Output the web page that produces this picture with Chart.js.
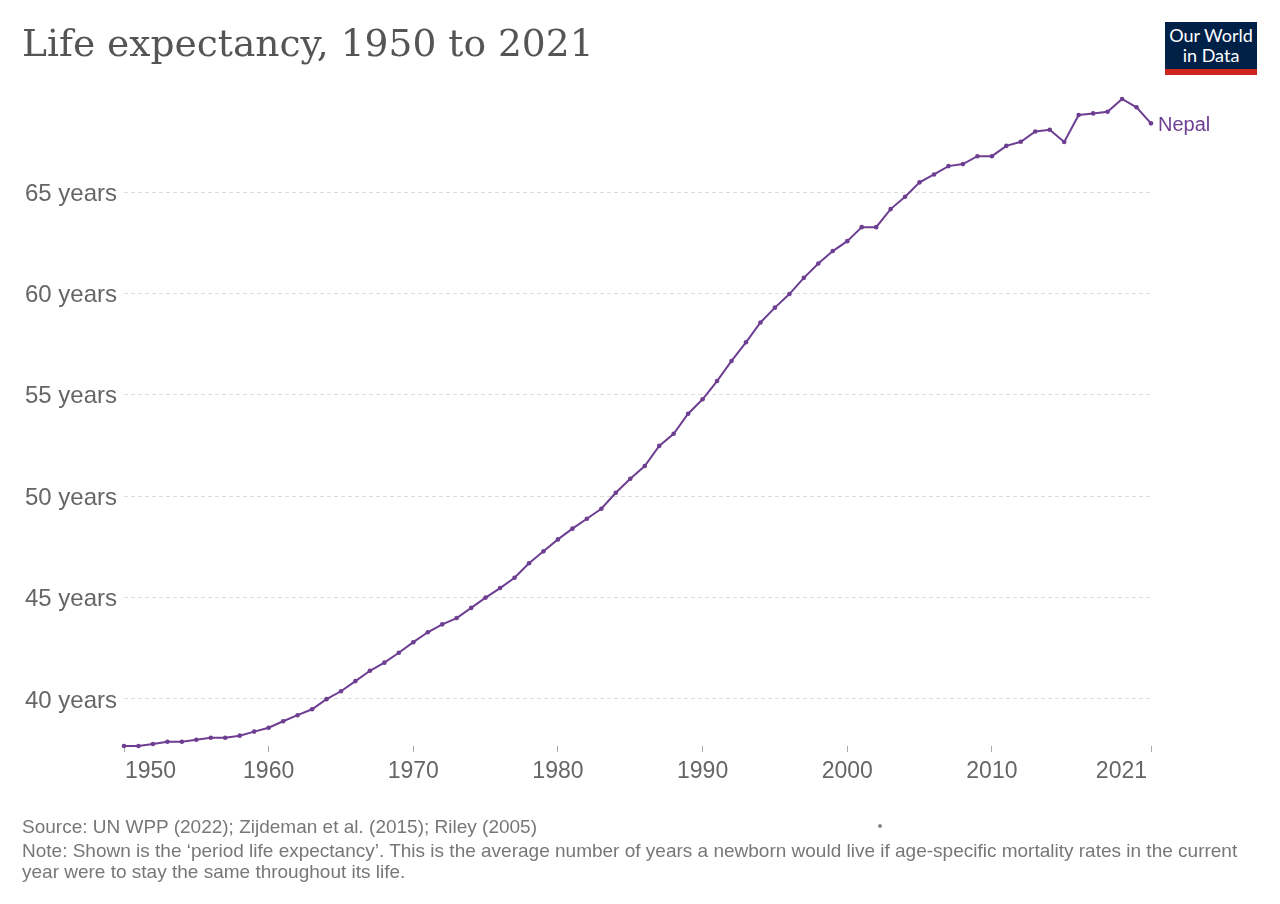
<!DOCTYPE html>
<html>
<head>
<meta charset="utf-8">
<title>Life expectancy, 1950 to 2021</title>
<script src="https://cdn.jsdelivr.net/npm/chart.js@4.4.1/dist/chart.umd.min.js"></script>
<style>
  body { margin: 0; background: #fff; }
  #wrap { position: relative; width: 1280px; height: 904px; overflow: hidden; }
  #chart { position: absolute; left: 0; top: 0; }
  .title { position: absolute; left: 22px; top: 25px; font: 37.6px/1 "DejaVu Serif", serif; color: #555; white-space: nowrap; }
  .logo { position: absolute; left: 1165px; top: 22px; width: 92px; height: 53px; box-sizing: border-box;
          background: #002147; border-bottom: 6px solid #ce261e; color: #fff; text-align: center;
          font: 18px/19.5px Lato, sans-serif; padding-top: 4px; }
  .foot { position: absolute; left: 22px; font: 19px/1 "Liberation Sans", Arial, sans-serif; color: #777; white-space: nowrap; }
  .dot { position: absolute; left: 878px; top: 824px; width: 4px; height: 4px; border-radius: 50%; background: #888; }
</style>
</head>
<body>
<div id="wrap">
  <canvas id="chart" width="1280" height="904"></canvas>
  <div class="title">Life expectancy, 1950 to 2021</div>
  <div class="logo">Our World<br>in Data</div>
  <div class="foot" style="top:817px">Source: UN WPP (2022); Zijdeman et al. (2015); Riley (2005)</div>
  <div class="foot" style="top:841px">Note: Shown is the ‘period life expectancy’. This is the average number of years a newborn would live if age-specific mortality rates in the current</div>
  <div class="foot" style="top:862px">year were to stay the same throughout its life.</div>
  <div class="dot"></div>
</div>
<script>
// ── data ──
const years = [
  1950, 1951, 1952, 1953, 1954, 1955, 1956, 1957, 1958, 1959,
  1960, 1961, 1962, 1963, 1964, 1965, 1966, 1967, 1968, 1969,
  1970, 1971, 1972, 1973, 1974, 1975, 1976, 1977, 1978, 1979,
  1980, 1981, 1982, 1983, 1984, 1985, 1986, 1987, 1988, 1989,
  1990, 1991, 1992, 1993, 1994, 1995, 1996, 1997, 1998, 1999,
  2000, 2001, 2002, 2003, 2004, 2005, 2006, 2007, 2008, 2009,
  2010, 2011, 2012, 2013, 2014, 2015, 2016, 2017, 2018, 2019,
  2020, 2021
];
const nepal = [
  37.68, 37.68, 37.78, 37.89, 37.89, 37.99, 38.09, 38.09, 38.19, 38.39,
  38.58, 38.90, 39.20, 39.49, 39.99, 40.38, 40.88, 41.39, 41.79, 42.28,
  42.80, 43.29, 43.68, 43.99, 44.49, 45.00, 45.47, 45.98, 46.69, 47.28,
  47.87, 48.40, 48.89, 49.38, 50.17, 50.86, 51.49, 52.48, 53.08, 54.07,
  54.78, 55.68, 56.67, 57.59, 58.57, 59.30, 59.97, 60.77, 61.48, 62.09,
  62.58, 63.27, 63.27, 64.16, 64.77, 65.48, 65.87, 66.28, 66.38, 66.77,
  66.77, 67.28, 67.48, 67.99, 68.07, 67.47, 68.80, 68.88, 68.96, 69.59,
  69.18, 68.39
];
const xTicks = [1950, 1960, 1970, 1980, 1990, 2000, 2010, 2021];
const yTicks = [40, 45, 50, 55, 60, 65];
const seriesName = 'Nepal';
const lineColor = '#6d3e91';

// x labels: first left-aligned, last right-aligned (OWID style), plus end label
const owidLabels = {
  id: 'owidLabels',
  afterDraw(chart) {
    const { ctx, scales: { x } } = chart;
    ctx.save();
    ctx.font = '23px "Liberation Sans", Arial, sans-serif';
    ctx.fillStyle = '#666';
    ctx.textBaseline = 'alphabetic';
    xTicks.forEach((v, i) => {
      const px = x.getPixelForValue(v);
      if (i === 0) { ctx.textAlign = 'left'; ctx.fillText(String(v), px + 1, 778); }
      else if (i === xTicks.length - 1) { ctx.textAlign = 'right'; ctx.fillText(String(v), px - 4, 778); }
      else { ctx.textAlign = 'center'; ctx.fillText(String(v), px, 778); }
    });
    const meta = chart.getDatasetMeta(0);
    const last = meta.data[meta.data.length - 1];
    ctx.font = '20px "Liberation Sans", Arial, sans-serif';
    ctx.fillStyle = lineColor;
    ctx.textAlign = 'left';
    ctx.fillText(seriesName, last.x + 7, last.y + 7.5);
    ctx.restore();
  }
};

new Chart(document.getElementById('chart'), {
  type: 'line',
  data: {
    datasets: [{
      label: seriesName,
      data: years.map((yr, i) => ({ x: yr, y: nepal[i] })),
      borderColor: lineColor,
      backgroundColor: lineColor,
      borderWidth: 2,
      pointRadius: 2.3,
      pointBorderWidth: 0,
      tension: 0,
      clip: false
    }]
  },
  options: {
    responsive: false,
    animation: false,
    devicePixelRatio: 1,
    layout: { padding: { top: 99, right: 129, bottom: 118, left: 0 } },
    plugins: { legend: { display: false }, tooltip: { enabled: false } },
    scales: {
      x: {
        type: 'linear',
        min: years[0],
        max: years[years.length - 1],
        afterBuildTicks: s => { s.ticks = xTicks.map(v => ({ value: v })); },
        afterFit: s => { s.height = 40; },
        ticks: { display: false },
        grid: { drawOnChartArea: false, drawTicks: true, tickLength: 6, color: '#aaa' },
        border: { display: false }
      },
      y: {
        min: Math.min(...nepal),
        max: Math.max(...nepal),
        afterBuildTicks: s => { s.ticks = yTicks.map(v => ({ value: v })); },
        afterFit: s => { s.width = 124; },
        ticks: {
          callback: v => v + ' years',
          color: '#666',
          padding: 7,
          labelOffset: 2,
          font: { family: '"Liberation Sans", Arial, sans-serif', size: 24 }
        },
        grid: { color: '#dcdcdc', lineWidth: 1, drawTicks: false },
        border: { display: false, dash: [4, 3] }
      }
    }
  },
  plugins: [owidLabels]
});
</script>
</body>
</html>
